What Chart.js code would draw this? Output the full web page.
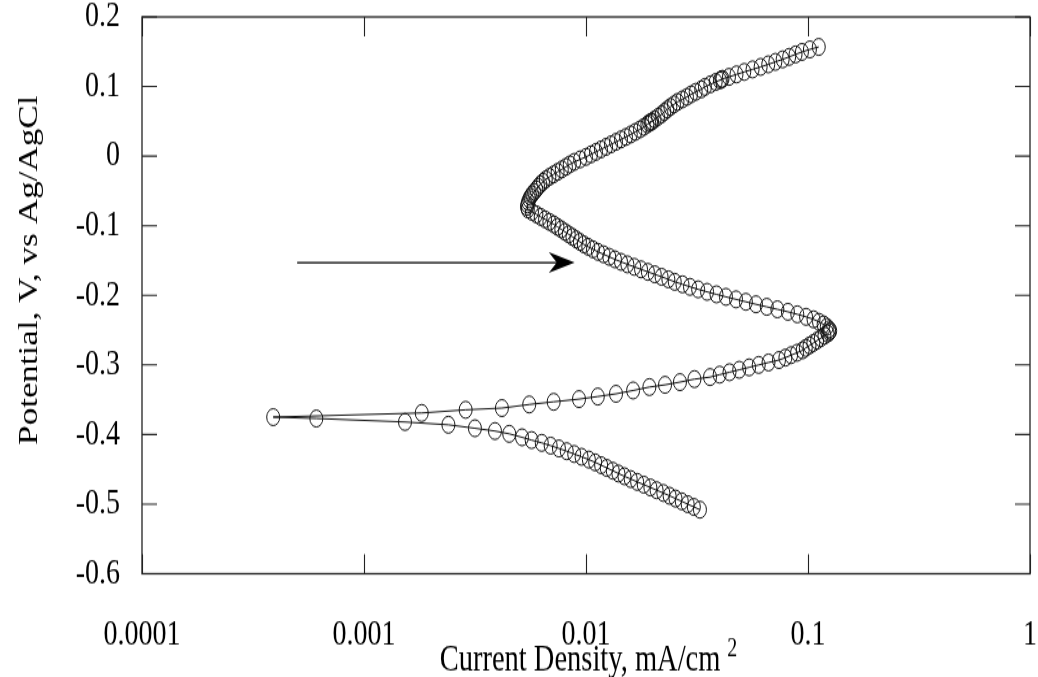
<!DOCTYPE html>
<html>
<head>
<meta charset="utf-8">
<title>Polarization curve</title>
<script src="https://cdn.jsdelivr.net/npm/chart.js@4.4.0/dist/chart.umd.min.js"></script>
<style>
  html, body { margin: 0; padding: 0; background: #fff; }
  /* drawn at 1038x521 and shown stretched to the full 677 px height */
  #polChart { display: block; width: 1038px; height: 677px; }
</style>
</head>
<body>
<canvas id="polChart" width="1038" height="521" style="width:1038px;height:677px"></canvas>
<script>
// current density (mA/cm2) and potential (V vs Ag/AgCl), in scan order
const current = [
  0.0326, 0.0306, 0.0287, 0.0270, 0.0253, 0.0238, 0.0223, 0.0208, 0.0195, 0.0182,
  0.0170, 0.0159, 0.0149, 0.0140, 0.0132, 0.0124, 0.0117, 0.0110, 0.0103, 0.00955,
  0.00885, 0.00819, 0.00755, 0.00693, 0.00632, 0.00569, 0.00515, 0.00451, 0.00389, 0.00316,
  0.00240, 0.00153, 0.00061, 0.00039,
  0.00182, 0.00287, 0.00418, 0.00555, 0.00715, 0.0093, 0.0113, 0.01365, 0.0163, 0.0193,
  0.0227, 0.0265, 0.0308, 0.0362, 0.0400, 0.0443, 0.0490, 0.0543, 0.0600, 0.0664,
  0.0740, 0.0791, 0.0839, 0.0893, 0.0946, 0.0977, 0.1016, 0.1057, 0.1099, 0.1143,
  0.1186, 0.1225, 0.1247, 0.1259,
  0.1243, 0.1215, 0.1176, 0.1121, 0.1059, 0.0980, 0.0895, 0.0812, 0.0728, 0.0652,
  0.0583, 0.0525, 0.0474, 0.0427, 0.0387, 0.0351, 0.0320, 0.0294, 0.0272, 0.0251,
  0.0235, 0.0219, 0.0204, 0.0190, 0.0177, 0.0165, 0.01536, 0.01438, 0.01350, 0.01273,
  0.01200, 0.01132, 0.01075, 0.01024, 0.00978, 0.00939, 0.00904, 0.00869, 0.00836, 0.00804,
  0.00774, 0.00744, 0.00716, 0.00684, 0.00654, 0.00625, 0.00598, 0.00571, 0.00547,
  0.00542, 0.00545, 0.00549, 0.00555, 0.00562, 0.00572, 0.00584, 0.00597, 0.00609, 0.00623,
  0.00640, 0.00659, 0.00684, 0.00714, 0.00745, 0.00778, 0.00812, 0.00845, 0.00885, 0.00941,
  0.0100, 0.01053, 0.01109, 0.01168, 0.01231, 0.01296, 0.01365, 0.01438, 0.01514, 0.01591,
  0.01667, 0.01750, 0.01822, 0.01890, 0.01962, 0.01925, 0.01985, 0.02037, 0.02111, 0.02190,
  0.02254, 0.02323, 0.02399, 0.02490, 0.02584, 0.02717, 0.02849, 0.02973, 0.03119, 0.03305,
  0.03434, 0.03632, 0.03838, 0.04075, 0.0401, 0.0412, 0.04405, 0.04762, 0.05163, 0.05627,
  0.06119, 0.06621, 0.07127, 0.07688, 0.08224, 0.08788, 0.09391, 0.1020, 0.1118
];
const potential = [
  -0.508, -0.504, -0.500, -0.496, -0.492, -0.488, -0.484, -0.480, -0.476, -0.472,
  -0.468, -0.464, -0.460, -0.456, -0.452, -0.448, -0.444, -0.440, -0.436, -0.432,
  -0.428, -0.424, -0.420, -0.416, -0.412, -0.408, -0.404, -0.399, -0.395, -0.391,
  -0.386, -0.382, -0.377, -0.375,
  -0.369, -0.3645, -0.362, -0.3568, -0.353, -0.3491, -0.3454, -0.3415, -0.3367, -0.3318,
  -0.3286, -0.3247, -0.3204, -0.3175, -0.314, -0.3105, -0.307, -0.3035, -0.300, -0.2965,
  -0.293, -0.2895, -0.286, -0.2825, -0.279, -0.2755, -0.272, -0.2685, -0.265, -0.2615,
  -0.258, -0.255, -0.253, -0.251,
  -0.2488, -0.2453, -0.2417, -0.2381, -0.2345, -0.2309, -0.2273, -0.2237, -0.2201, -0.2165,
  -0.2129, -0.2093, -0.2058, -0.2022, -0.1986, -0.1950, -0.1914, -0.1878, -0.1842, -0.1806,
  -0.1770, -0.1734, -0.1698, -0.1663, -0.1627, -0.1591, -0.1555, -0.1519, -0.1483, -0.1447,
  -0.1411, -0.1375, -0.1339, -0.1303, -0.1268, -0.1232, -0.1196, -0.1160, -0.1124, -0.1088,
  -0.1052, -0.1016, -0.0980, -0.0944, -0.0908, -0.0873, -0.0837, -0.0801, -0.0765,
  -0.0729, -0.0693, -0.0657, -0.0621, -0.0585, -0.0549, -0.0514, -0.0478, -0.0442, -0.0406,
  -0.0370, -0.0334, -0.0298, -0.0262, -0.0226, -0.0190, -0.0154, -0.0119, -0.0083, -0.0047,
  -0.0011, 0.0025, 0.0061, 0.0097, 0.0133, 0.0169, 0.0205, 0.0241, 0.0276, 0.0312,
  0.0348, 0.0384, 0.0420, 0.0456, 0.0492, 0.0478, 0.0498, 0.0528, 0.0564, 0.0600,
  0.0636, 0.0671, 0.0707, 0.0743, 0.0779, 0.0815, 0.0851, 0.0887, 0.0923, 0.0959,
  0.0995, 0.1031, 0.1066, 0.1102, 0.1088, 0.1110, 0.1138, 0.1174, 0.1210, 0.1246,
  0.1282, 0.1318, 0.1354, 0.1390, 0.1426, 0.1461, 0.1497, 0.1533, 0.1569
];

const xTickValues = [0.0001, 0.001, 0.01, 0.1, 1];
const xTickLabels = ['0.0001', '0.001', '0.01', '0.1', '1'];
const yTickValues = [0.2, 0.1, 0, -0.1, -0.2, -0.3, -0.4, -0.5, -0.6];
const yTickLabels = ['0.2', '0.1', '0', '-0.1', '-0.2', '-0.3', '-0.4', '-0.5', '-0.6'];

// scan direction arrow, in data units
const arrowFrom = { x: 0.0005, y: -0.153 };
const arrowTo = { x: 0.0089, y: -0.153 };

const serif = "'Liberation Serif', 'Times New Roman', serif";

// box, inward ticks on all four sides, arrow and axis titles
const frameTicks = {
  id: 'frameTicks',
  afterDraw(chart) {
    const { ctx, chartArea: a, scales } = chart;
    ctx.save();
    ctx.strokeStyle = '#222';
    ctx.lineWidth = 1.3;
    ctx.strokeRect(a.left, a.top, a.right - a.left, a.bottom - a.top);

    ctx.lineWidth = 1.1;
    ctx.beginPath();
    xTickValues.forEach(v => {
      const px = Math.round(scales.x.getPixelForValue(v)) + 0.5;
      ctx.moveTo(px, a.bottom); ctx.lineTo(px, a.bottom - 15);
      ctx.moveTo(px, a.top); ctx.lineTo(px, a.top + 15);
    });
    yTickValues.forEach(v => {
      const py = scales.y.getPixelForValue(v);
      ctx.moveTo(a.left, py); ctx.lineTo(a.left + 15, py);
      ctx.moveTo(a.right, py); ctx.lineTo(a.right - 15, py);
    });
    ctx.stroke();

    // arrow shaft and notched head
    const x0 = scales.x.getPixelForValue(arrowFrom.x);
    const x1 = scales.x.getPixelForValue(arrowTo.x);
    const y0 = scales.y.getPixelForValue(arrowFrom.y);
    ctx.strokeStyle = '#000';
    ctx.lineWidth = 1.3;
    ctx.beginPath();
    ctx.moveTo(x0, y0); ctx.lineTo(x1 - 12, y0);
    ctx.stroke();
    ctx.fillStyle = '#000';
    ctx.beginPath();
    ctx.moveTo(x1, y0);
    ctx.lineTo(x1 - 26, y0 - 8);
    ctx.lineTo(x1 - 18, y0);
    ctx.lineTo(x1 - 26, y0 + 8);
    ctx.closePath();
    ctx.fill();

    // y title
    ctx.fillStyle = '#000';
    ctx.font = `27px ${serif}`;
    ctx.textAlign = 'center';
    ctx.textBaseline = 'middle';
    ctx.save();
    ctx.translate(30, 208);
    ctx.rotate(-Math.PI / 2);
    ctx.fillText('Potential, V, vs Ag/AgCl', 0, 0);
    ctx.restore();

    // x title with superscript
    ctx.textAlign = 'left';
    ctx.textBaseline = 'alphabetic';
    ctx.font = `28.5px ${serif}`;
    const main = 'Current Density, mA/cm';
    const w = ctx.measureText(main).width;
    const startX = 580 - w / 2;
    ctx.fillText(main, startX, 516);
    ctx.font = `20px ${serif}`;
    ctx.fillText('2', startX + w + 7, 505);
    ctx.restore();
  }
};

const noPad = s => { s.paddingLeft = 0; s.paddingRight = 0; s.paddingTop = 0; s.paddingBottom = 0; };

new Chart(document.getElementById('polChart'), {
  type: 'scatter',
  data: {
    datasets: [{
      data: current.map((c, i) => ({ x: c, y: potential[i] })),
      showLine: true,
      borderColor: '#111',
      borderWidth: 1,
      pointStyle: 'circle',
      pointRadius: 6.5,
      pointBorderWidth: 1,
      pointBorderColor: '#111',
      pointBackgroundColor: 'rgba(0,0,0,0)',
      tension: 0,
      fill: false
    }]
  },
  options: {
    responsive: false,
    animation: false,
    events: [],
    layout: { padding: { top: 13, right: 8, left: 0, bottom: 0 } },
    plugins: { legend: { display: false }, tooltip: { enabled: false } },
    scales: {
      x: {
        type: 'logarithmic',
        min: 0.0001,
        max: 1,
        grid: { display: false, drawTicks: false },
        border: { display: false },
        afterBuildTicks: s => { s.ticks = xTickValues.map(v => ({ value: v })); },
        afterFit: s => { s.height = 79.5; noPad(s); },
        ticks: {
          color: '#000',
          padding: 30,
          autoSkip: false,
          maxRotation: 0,
          font: { family: serif, size: 28 },
          callback: (v, i) => xTickLabels[i]
        }
      },
      y: {
        min: -0.6,
        max: 0.2,
        grid: { display: false, drawTicks: false },
        border: { display: false },
        afterBuildTicks: s => { s.ticks = yTickValues.map(v => ({ value: v })); },
        afterFit: s => { s.width = 142; noPad(s); },
        ticks: {
          color: '#000',
          padding: 22,
          font: { family: serif, size: 28 },
          callback: (v, i) => yTickLabels[i]
        }
      }
    }
  },
  plugins: [frameTicks]
});
</script>
</body>
</html>
